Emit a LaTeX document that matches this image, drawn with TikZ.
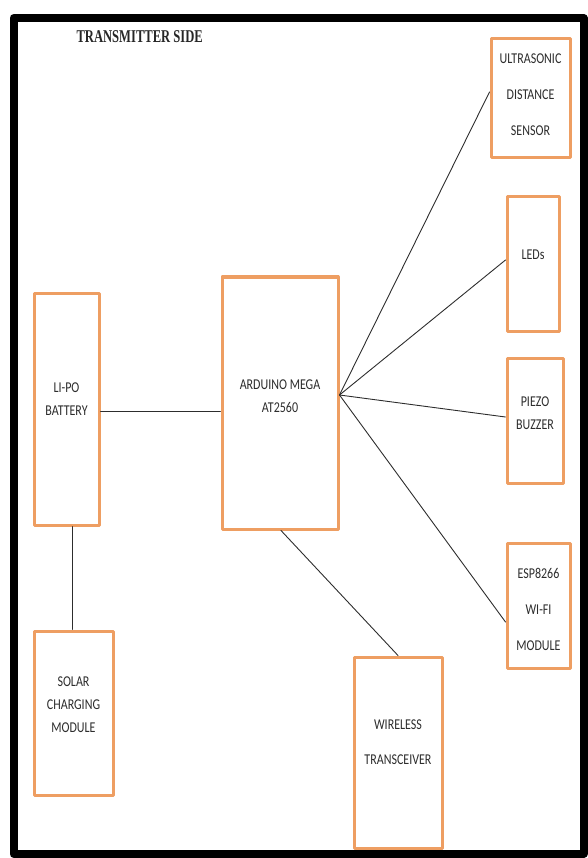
\documentclass[tikz,border=0pt]{standalone}
\usepackage{fontspec}
\usepackage{tikz}
\usepackage{xcolor}
\newfontfamily\boxfont[FakeStretch=0.8]{Carlito}
\newfontfamily\headfont[FakeStretch=0.7]{Liberation Serif}
\definecolor{boxorange}{RGB}{238,158,98}
\definecolor{inkgray}{RGB}{45,45,45}

\tikzset{
  blk/.style={draw=boxorange, line width=3pt, fill=white, inner sep=0pt},
  lbl/.style={font=\boxfont\fontsize{15}{23}\selectfont, text=inkgray, align=center},
  wire/.style={draw=inkgray, line width=0.9pt}
}

\begin{document}
\begin{tikzpicture}[x=1pt, y=-1pt, line cap=round, line join=round]
\useasboundingbox (0,0) rectangle (587,858);
\draw[line width=8pt, line cap=butt] (13.5,18) rectangle (583.5,854);
\node[anchor=base west, font=\headfont\bfseries\fontsize{18}{20}\selectfont, text=black!85]
  (title) at (73,43) {TRANSMITTER SIDE};

\node[blk, minimum width=79pt, minimum height=119pt,
  label={[lbl, yshift=4pt]center:{ULTRASONIC\\[13pt]DISTANCE\\[13pt]SENSOR}}] (ultra) at (530.5,98.5) {};
\node[blk, minimum width=52pt, minimum height=134pt,
  label={[lbl, yshift=9pt]center:{LEDs}}] (leds) at (533,264) {};
\node[blk, minimum width=56pt, minimum height=125pt,
  label={[lbl, yshift=7pt]center:{PIEZO\\BUZZER}}] (piezo) at (535,420.5) {};
\node[blk, minimum width=63pt, minimum height=125pt,
  label={[lbl, yshift=-4pt]center:{ESP8266\\[13pt]WI-FI\\[13pt]MODULE}}] (esp) at (538.5,605.5) {};
\node[blk, minimum width=65pt, minimum height=232pt,
  label={[lbl, yshift=10pt]center:{LI-PO\\BATTERY}}] (lipo) at (66.5,409) {};
\node[blk, minimum width=116pt, minimum height=252pt,
  label={[lbl, yshift=7pt]center:{ARDUINO MEGA\\AT2560}}] (mega) at (280,403) {};
\node[blk, minimum width=79pt, minimum height=164pt,
  label={[lbl, yshift=8pt]center:{SOLAR\\CHARGING\\MODULE}}] (solar) at (73.5,713) {};
\node[blk, minimum width=88pt, minimum height=191pt,
  label={[lbl, yshift=10pt]center:{WIRELESS\\[12pt]TRANSCEIVER}}] (wless) at (398,752.5) {};

% connections
\coordinate (hub) at ([yshift=8pt]mega.east);
\draw[wire] (hub) -- ([yshift=6.5pt]ultra.west);
\draw[wire] (hub) -- ([yshift=4pt]leds.west);
\draw[wire] (hub) -- ([yshift=3.5pt]piezo.west);
\draw[wire] (hub) -- ([yshift=-16.5pt]esp.west);
\draw[wire] ([yshift=-2pt]lipo.east) -- ([yshift=-2pt]lipo.east -| mega.west);
\draw[wire] ([xshift=5.5pt]lipo.south) -- ([xshift=-1.5pt]solar.north);
\draw[wire] ([xshift=1pt]mega.south) -- (wless.north);
\end{tikzpicture}
\end{document}
